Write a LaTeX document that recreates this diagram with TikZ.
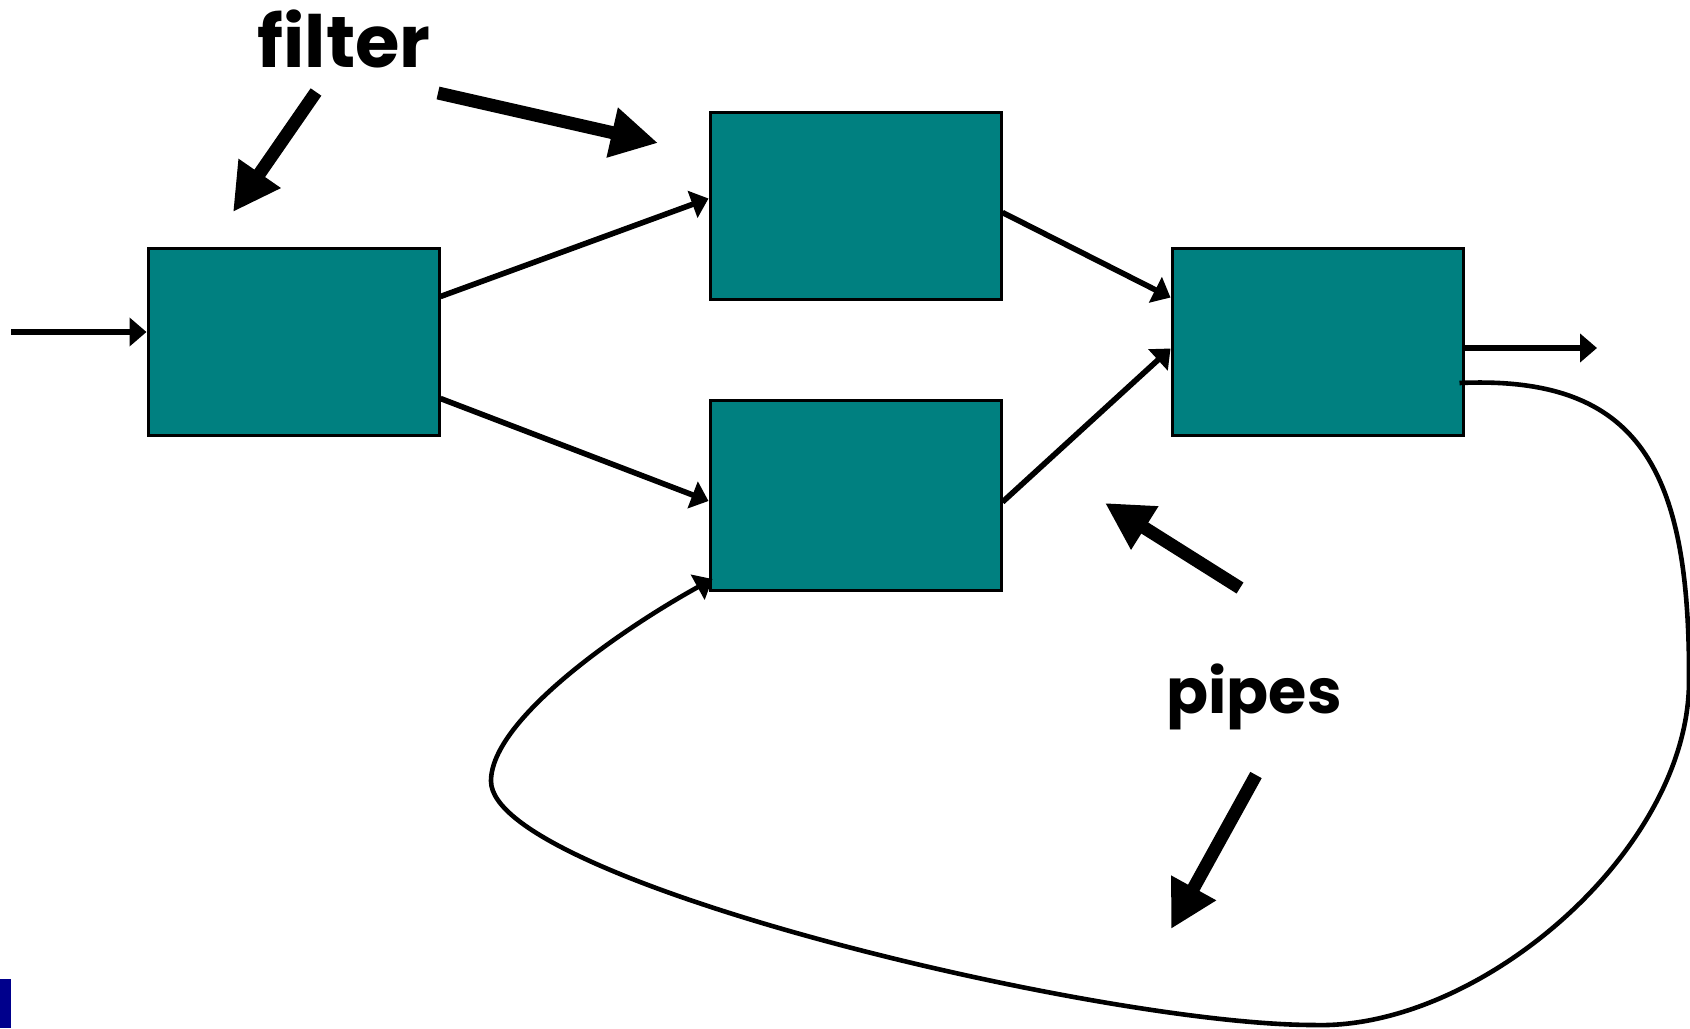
\documentclass[tikz,border=0pt]{standalone}
\usepackage{fontspec}
\newfontfamily\labelfont{Poppins}
\usetikzlibrary{arrows.meta,calc}
\definecolor{boxteal}{RGB}{0,128,128}
\definecolor{barblue}{RGB}{0,0,140}
\begin{document}
\begin{tikzpicture}[x=0.5pt,y=-0.5pt,
  filterbox/.style={draw=black,line width=1.5pt,fill=boxteal,rectangle,inner sep=0pt,minimum width=145.5pt,minimum height=93.5pt},
  pipe/.style={line width=2.8pt,-{Triangle[length=8.5pt,width=14pt]}},
  bigarrow/.style={line width=6.5pt,-{Triangle[length=23.5pt,width=24pt]}},
  note/.style={font=\labelfont\bfseries\fontsize{36}{40}\selectfont,inner sep=0pt,anchor=base}]
\useasboundingbox (0,0) rectangle (1690,1028);
% filters
\node[filterbox] (b1) at (293.5,341.5) {};
\node[filterbox] (b2) at (855.5,205.5) {};
\node[filterbox,minimum height=95pt] (b3) at (855.5,495) {};
\node[filterbox] (b4) at (1317.5,341.5) {};
% free ends
\coordinate (in) at (11,332);
\coordinate (out) at (1597,348);
% pipes
\draw[pipe] (in) -- ($(b1.west)+(0,-9.5)$);
\draw[pipe] ($(b1.east)+(0,-45)$) -- ($(b2.west)+(0,-7)$);
\draw[pipe] ($(b1.east)+(0,57)$) -- ($(b3.west)+(0,6)$);
\draw[pipe] ($(b2.east)+(0,7)$) -- ($(b4.west)+(0,-44)$);
\draw[pipe] ($(b3.east)+(0,7)$) -- ($(b4.west)+(0,7)$);
\draw[pipe] ($(b4.east)+(0,6.5)$) -- (out);
% feedback pipe
\coordinate (fbs) at ($(b4.east)+(-5,41.5)$);
\coordinate (fbe) at ($(b3.west)+(4,84)$);
\draw[pipe,line width=2.3pt] (fbs) .. controls (1640,375) and (1690,470) .. (1689,681)
  .. controls (1689,850) and (1480,1030) .. (1314,1025)
  .. controls (1100,1025) and (491,880) .. (491,781)
  .. controls (491,720) and (620,630) .. (fbe);
% labels
\node[note] (filt) at (344,67) {filter};
\node[note,font=\labelfont\bfseries\fontsize{31}{36}\selectfont] (pip) at (1254,713) {pipes};
% label arrows
\coordinate (fa1s) at (316,92);
\coordinate (fa1e) at (233,212);
\coordinate (fa2s) at (438,93);
\coordinate (fa2e) at (658,143);
\coordinate (pa1s) at (1240,588);
\coordinate (pa1e) at (1105,503);
\coordinate (pa2s) at (1256,775);
\coordinate (pa2e) at (1171,929);
\draw[bigarrow] (fa1s) -- (fa1e);
\draw[bigarrow] (fa2s) -- (fa2e);
\draw[bigarrow] (pa1s) -- (pa1e);
\draw[bigarrow] (pa2s) -- (pa2e);
% corner bar
\fill[barblue] (0,979) rectangle (11,1028);
\end{tikzpicture}
\end{document}
